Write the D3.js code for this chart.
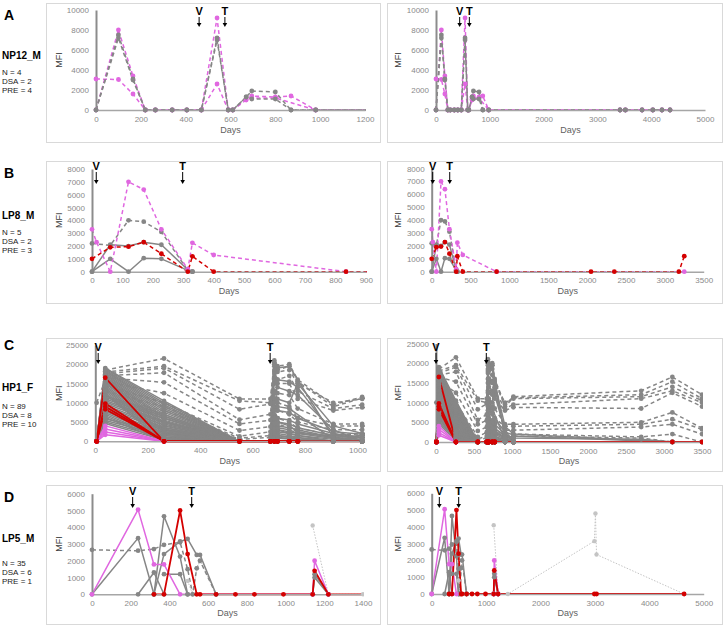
<!DOCTYPE html>
<html><head><meta charset="utf-8">
<script src="https://cdn.jsdelivr.net/npm/d3@7"></script>
<style>
body{margin:0;background:#fff}
svg{display:block}
text{font-family:"Liberation Sans",Arial,sans-serif}
</style></head>
<body><svg id="c" width="723" height="628"></svg>
<script>
// ---------------- DATA ----------------
// Panel A  (NP12_M)
const A_days = [0, 100, 165, 220, 265, 340, 405, 470, 540, 590, 610, 670, 695, 800, 870, 980, 3420, 3520, 3830, 4030, 4200, 4350];
const A_values = [
  [0, 8000, 3400, 0, 0, 0, 0, 0, 9200, 0, 0, 1000, 1400, 1300, 1400, 0, 0, 0, 0, 0, 0, 0],
  [3100, 3050, 1600, 0, 0, 0, 0, 0, 2600, 0, 0, 1100, 1200, 1200, null, 0, 0, 0, 0, 0, 0, 0],
  [0, 7500, 3100, 0, 0, 0, 0, 0, 7200, 0, 0, 1300, 1900, 1800, 0, 0, 0, 0, 0, 0, 0, 0],
  [0, 7200, 3000, 0, 0, 0, 0, 0, 7000, 0, 0, 1300, 1100, 1100, 0, 0, 0, 0, 0, 0, 0, 0]
];
const A_kinds = ["pinkDash", "pinkDash", "grayDash", "grayDash"];
const A_marks = {left: {V: 460, T: 575}, right: {V: 440, T: 620}};

// Panel B  (LP8_M)
const B_days = [0, 15, 60, 120, 170, 228, 315, 330, 400, 835, 2050, 2350, 3180, 3250];
const B_values = [
  [3300, 2300, 0, 7000, 6400, 3300, 200, 2250, 1300, 0, null, null, null, 0],
  [2200, null, 2050, 4000, 3900, 3100, 100, 0],
  [0, null, 2100, 2000, 2300, 2100, 150, 0],
  [0, null, 1000, 0, 1050, 1000, 100, 0],
  [1000, null, 1900, 1950, 2300, 1400, 0, 1200, 0, 0, 0, 0, 0, 1200]
];
const B_kinds = ["pinkDash", "grayDash", "graySolid", "graySolid", "redDash"];
const B_marks = {left: {V: 14, T: 298}, right: {V: 13, T: 232}};

// Panel C  (HP1_F)
const C_days = [5, 38, 262, 550, 668, 683, 695, 740, 772, 908, 1018, 2700, 3110, 3500];
const C_dashed = [
  [null, 18500, 21500, 11000, 11000, 21000, 19500, 20000, 16000, 9500, 11500, 13000, 16500, 12000],
  [null, 18000, 19500, 10500, 10000, 20000, 18500, 19500, 15500, 9000, 11200, 12000, 15300, 11000],
  [null, 17500, 19000, 8300, 9700, 19500, 18000, 18500, 15000, 10000, 11000, 11500, 14000, 10500],
  [null, 17000, 17800, 5600, 7000, 18500, 16000, 17000, 13000, 8500, 9500, 11000, 13000, 10000],
  [null, 16500, 15300, 4500, 5500, 17500, 15000, 15000, 11000, 8000, 8800, 8500, 12500, 9000],
  [null, 15500, 12500, 2800, 3800, 15000, 12500, 12000, 8500, 4500, 4500, 5000, 7500, 3500],
  [null, 14500, 10000, 1300, 2500, 12500, 10000, 9000, 6000, 4000, 4000, 4500, 5800, 3200],
  [null, 13000, 9000, 800, 1500, 10000, 8000, 7000, 5000, 3000, 3000, 3800, 4500, 2000],
  [null, 11000, 8000, 500, 1000, 8000, 6000, 5000, 3500, 1500, 2000, 1300, 2000, 0],
  [10000, 16000, 6000, 0, 0, 6000, 4500, 3500, 2500, 1000, 1500, 1000, 0, 0]
];
const C_solid = [
  [0, 19000, 10500, 0, 0, 4000, 3000, 2000, 1500, 500, 0],
  [0, 18800, 10000, 0, 0, 0, 0, 0, 0, 0, 0],
  [0, 18500, 9500, 0, 0, 6500, 5000, 4000, 2500, 1000, 1500, null, 0],
  [0, 18200, 9000, 0, 0, 0, 0, 0, 0, 0, 0],
  [0, 18000, 8500, 0, 0, 20500, 19000, 19500, null, 1000, 0],
  [0, 17700, 8000, 0, 0, 2000, 1500, 1000, 500, 0, 0],
  [0, 17400, 7500, 0, 0, 0, 0, 0, 0, 0, 0],
  [0, 17100, 7000, 0, 0, 3500, 3000, 2500, 2000, 1500, 1000, 700, 0],
  [0, 16800, 6500, 0, 0, 0, 0, 0, 0, 0, 0],
  [0, 16500, 6000, 0, 0, 13000, 11000, 10000, 15000, 4000, 2000, null, 0],
  [0, 16200, 5500, 0, 0, 0, 0, 0, 0, 0, 0],
  [0, 15900, 5000, 0, 0, 7000, 6000, 5500, 4500, 2000, 1000],
  [0, 15600, 4500, 0, 0, 0, 0, 0, 0, 0, 0],
  [0, 15300, 4000, 0, 0, 1500, 1000, 800, 500, 0, 0],
  [0, 15000, 3500, 0, 0, 0, 0, 0, 0, 0, 0],
  [0, 14600, 3000, 0, 0, 9000, 8000, 7500, 6000, 2500, 1800],
  [0, 14200, 2500, 0, 0, 0, 0, 0, 0, 0, 0],
  [0, 13800, 2000, 0, 0, 5000, 4000, 3500, 3000, 1000, 500],
  [0, 13400, 1500, 0, 0, 0, 0, 0, 0, 0, 0],
  [0, 13000, 1000, 0, 0, 11000, 9000, 8500, null, 500, 0],
  [0, 12600, 500, 0, 0, 0, 0, 0, 0, 0, 0],
  [0, 12200, 0, 0, 0, 3000, 2500, 2000, 1500, 0, 0],
  [0, 11800, 7000, 0, 0, 0, 0, 0, 0, 0, 0],
  [0, 11400, 6500, 0, 0, 16000, 14000, 13000, 12000, 3000, 0],
  [0, 11000, 6000, 0, 0, 0, 0, 0, 0, 0, 0],
  [0, 10600, 5200, 0, 0, 4500, 3500, 3000, 2000, 700, 0],
  [0, 10200, 4800, 0, 0, 0, 0, 0, 0, 0, 0],
  [0, 9800, 4200, 0, 0, 2500, 2000, 1500, 1000, 0, 0],
  [0, 9400, 3600, 0, 0, 0, 0, 0, 0, 0, 0],
  [0, 9000, 3200, 0, 0, 18000, 16000, 15500, 14000, 2000, 0],
  [0, 8600, 2800, 0, 0, 0, 0, 0, 0, 0, 0],
  [0, 8200, 2200, 0, 0, 1000, 800, 600, 400, 0, 0],
  [0, 7800, 1800, 0, 0, 0, 0, 0, 0, 0, 0],
  [0, 7400, 1200, 0, 0, 6000, 5000, 4500, 3500, 1500, 800],
  [0, 7000, 800, 0, 0, 0, 0, 0, 0, 0, 0],
  [0, 6600, 400, 0, 0, 0, 0, 0, 0, 0, 0],
  [0, 6200, 0, 0, 0, 2000, 1500, 1200, 900, 0, 0],
  [0, 5800, 2500, 0, 0, 0, 0, 0, 0, 0, 0],
  [0, 5400, 1500, 0, 0, 0, 0, 0, 0, 0, 0],
  [0, 5000, 800, 0, 0, 0, 0, 0, 0, 0, 0],
  [0, 4600, 300, 0, 0, 0, 0, 0, 0, 0, 0]
];
const C_pink = [
  [0, 4000, 0], [0, 3200, 0], [0, 2400, 0], [0, 1700, 0]
];
const C_red = [
  [0, 16500, 0, 0, 0, 0, 0, 0, 0, null, null, null, 0, 0],
  [0, 9800, 0, 0, 0, 0, 0, 0, 0],
  [0, 9000, 0, 0, 0, 0, 0, 0, 0],
  [0, 8300, 0, 0, 0, 0, 0, 0, 0]
];
const C_marks = {left: {V: 11, T: 667}, right: {V: 0, T: 662}};

// Panel D  (LP5_M)
const D_days = [0, 238, 320, 372, 455, 494, 520, 541, 558, 641, 741, 839, 989, 1140, 1150, 1221, 1400, 2990, 3010, 3030, 4640];
const D_values = [
  [null, null, null, null, null, null, null, null, null, null, null, null, null, 4100, null, 0, 0, 3150, 4800, 2350, 0],
  [null, null, null, null, null, 800, 0, 1550, 2000, 0],
  [0, 3350, 0],
  [null, 0, 1300, 0],
  [null, null, 0, 4650, 2250, 0],
  [null, null, null, 1200, 1200, 0],
  [null, null, 0, 2400, 3150, 3300, null, 2350, 2350, 0],
  [null, null, null, null, null, null, null, null, null, null, null, null, null, 0, 1200, 0],
  [null, null, null, null, null, null, null, null, null, null, null, null, null, 0, 1000, 0],
  [2650, 2600, 2700, 2950, 3100, 1500, 0, 1550, 2000, 0],
  [0, 5050, 1780, 1780, 0, null, null, null, null, null, null, null, null, 0, 2000, 0],
  [null, null, 0, 0, 5000, 2400, null, 0, 0, 0, 0, 0, 0, 0, 1400, 0, null, 0, null, 0, 0]
];
const D_kinds = ["lightDot", "lightDot", "graySolid", "graySolid", "graySolid", "graySolid", "graySolid", "graySolid", "graySolid", "grayDash", "pinkSolid", "redSolid"];
const D_marks = {left: {V: 210, T: 515}, right: {V: 140, T: 496}};

const panelLetters = ["A", "B", "C", "D"];
const patientIds = ["NP12_M", "LP8_M", "HP1_F", "LP5_M"];
const statLines = [
  ["N = 4", "DSA = 2", "PRE = 4"],
  ["N = 5", "DSA = 2", "PRE = 3"],
  ["N = 89", "DSA = 8", "PRE = 10"],
  ["N = 35", "DSA = 6", "PRE = 1"]
];

// ---------------- BUILD SERIES ----------------
function mk(days, vals, kind) {
  return {kind, pts: days.map((d, i) => ({d, v: vals[i]})).filter(p => p.v != null && p.v !== undefined)};
}
const A_series = A_values.map((v, i) => mk(A_days, v, A_kinds[i]));
const B_series = B_values.map((v, i) => mk(B_days, v, B_kinds[i]));
const C_series = [].concat(
  C_solid.map(v => mk(C_days, v, "graySolid")),
  C_dashed.map(v => mk(C_days, v, "grayDash")),
  C_pink.map(v => mk(C_days, v, "pinkSolid")),
  C_red.map(v => mk(C_days, v, "redSolid"))
);
const D_series = D_values.map((v, i) => mk(D_days, v, D_kinds[i]));

const STY = {
  lightDot:  {c: "#c4c4c4", w: 1,   dash: "1.5,1.5", r: 2.2, o: 0},
  graySolid: {c: "#868686", w: 1.5, dash: null,      r: 2.4, o: 1},
  grayDash:  {c: "#868686", w: 1.5, dash: "4,3",     r: 2.4, o: 2},
  pinkSolid: {c: "#e067e0", w: 1.5, dash: null,      r: 2.4, o: 3},
  pinkDash:  {c: "#e067e0", w: 1.5, dash: "4,3",     r: 2.4, o: 4},
  redSolid:  {c: "#d40000", w: 1.8, dash: null,      r: 2.4, o: 5},
  redDash:   {c: "#d40000", w: 1.5, dash: "4,3",     r: 2.4, o: 6}
};

// ---------------- LAYOUT ----------------
const PANELS = [
  {series: A_series, keepOrder: true, marks: A_marks, box: [3, 142], yMax: 10000, yStep: 2000, txt: [20, 59, 75], vtY: 14.5, arr: [17, 27],
   left:  {x: [96, 365], y: [110, 10], xMax: 1200, xStep: 200},
   right: {x: [436, 705], y: [110, 10], xMax: 5000, xStep: 1000}, daysY: 133},
  {series: B_series, marks: B_marks, box: [161, 303], yMax: 8000, yStep: 1000, txt: [178, 219, 235], vtY: 169.5, arr: [172, 184],
   left:  {x: [92, 365.8], y: [271.7, 169], xMax: 900, xStep: 100},
   right: {x: [431.7, 703.7], y: [271.7, 168.5], xMax: 3500, xStep: 500}, daysY: 294},
  {series: C_series, marks: C_marks, box: [338, 471], yMax: 25000, yStep: 5000, txt: [350, 391, 409], vtY: 350.5, arr: [353, 364],
   left:  {x: [95.3, 364], y: [441.3, 345], xMax: 1025, xStep: 200},
   right: {x: [436, 702], y: [442, 343.5], xMax: 3500, xStep: 500}, daysY: 464},
  {series: D_series, marks: D_marks, box: [485, 624], yMax: 6000, yStep: 1000, txt: [502, 542, 566], vtY: 494.5, arr: [497, 508],
   left:  {x: [92, 363], y: [594.3, 493.7], xMax: 1400, xStep: 200},
   right: {x: [431.7, 703.7], y: [594, 493.3], xMax: 5000, xStep: 1000}, daysY: 616}
];

const svg = d3.select("#c");
const defs = svg.append("defs");
let clipN = 0;

function drawSub(P, side) {
  const L = P[side];
  const bx = side === "left" ? [46, 380] : [387, 722];
  const x = d3.scaleLinear().domain([0, L.xMax]).range(L.x);
  const y = d3.scaleLinear().domain([0, P.yMax]).range(L.y);
  const g = svg.append("g");

  g.append("rect").attr("x", bx[0] + 0.5).attr("y", P.box[0] + 0.5)
    .attr("width", bx[1] - bx[0]).attr("height", P.box[1] - P.box[0])
    .attr("fill", "#fff").attr("stroke", "#d9d9d9").attr("stroke-width", 1);

  const cid = "clip" + (clipN++);
  defs.append("clipPath").attr("id", cid).append("rect")
    .attr("x", bx[0] + 1).attr("y", P.box[0] + 1).attr("width", L.x[1] + 1 - bx[0] - 1).attr("height", P.box[1] - P.box[0] - 2);

  const lineLayer = g.append("g").attr("clip-path", `url(#${cid})`);

  const ya = g.append("g").attr("transform", `translate(${L.x[0]},0)`)
    .call(d3.axisLeft(y).tickValues(d3.range(0, P.yMax + 1, P.yStep)).tickFormat(d3.format("d")).tickSize(0).tickPadding(7));
  ya.select(".domain").attr("stroke", "#8c8c8c").attr("stroke-width", 2);
  ya.selectAll("text").attr("fill", "#8a8a8a").attr("font-size", 8).attr("font-family", "Liberation Sans, Arial, sans-serif");

  const xa = g.append("g").attr("transform", `translate(0,${L.y[0]})`)
    .call(d3.axisBottom(x).tickValues(d3.range(0, L.xMax + 1, L.xStep)).tickFormat(d3.format("d")).tickSize(0).tickSizeOuter(0).tickPadding(6));
  xa.select(".domain").attr("stroke", "#a6a6a6").attr("stroke-width", 1.5);
  xa.selectAll("text").attr("fill", "#8a8a8a").attr("font-size", 8).attr("font-family", "Liberation Sans, Arial, sans-serif");

  const markLayer = g.append("g").attr("clip-path", `url(#${cid})`);

  const midY = (L.y[0] + L.y[1]) / 2;
  const mfiX = side === "left" ? 58.5 : 398;
  g.append("text").attr("transform", `translate(${mfiX},${midY}) rotate(-90)`)
    .attr("text-anchor", "middle").attr("dy", "0.35em").attr("font-size", 9).attr("fill", "#404040").text("MFI");
  g.append("text").attr("x", (L.x[0] + L.x[1]) / 2).attr("y", P.daysY).attr("text-anchor", "middle")
    .attr("font-size", 9).attr("fill", "#5f5f5f").text("Days");

  const line = d3.line().x(p => x(p.d)).y(p => y(p.v));
  const ordered = P.keepOrder ? P.series.slice() : P.series.slice().sort((a, b) => STY[a.kind].o - STY[b.kind].o);
  ordered.forEach(s => {
    const st = STY[s.kind];
    lineLayer.append("path").datum(s.pts).attr("d", line).attr("fill", "none")
      .attr("stroke", st.c).attr("stroke-width", st.w)
      .attr("stroke-dasharray", st.dash).attr("stroke-linejoin", "round");
  });
  ordered.forEach(s => {
    const st = STY[s.kind];
    markLayer.selectAll(null).data(s.pts).join("circle")
      .attr("cx", p => x(p.d)).attr("cy", p => y(p.v)).attr("r", st.r).attr("fill", st.c);
  });

  const mks = P.marks[side];
  Object.entries(mks).forEach(([lab, d]) => {
    const xx = x(d);
    g.append("text").attr("x", xx).attr("y", P.vtY).attr("text-anchor", "middle")
      .attr("font-size", 11).attr("font-weight", "bold").attr("fill", "#000").text(lab);
    g.append("line").attr("x1", xx).attr("x2", xx).attr("y1", P.arr[0]).attr("y2", P.arr[1] - 3)
      .attr("stroke", "#000").attr("stroke-width", 1);
    g.append("path").attr("d", `M${xx - 2.3},${P.arr[1] - 4}L${xx + 2.3},${P.arr[1] - 4}L${xx},${P.arr[1]}Z`).attr("fill", "#000");
  });
}

PANELS.forEach((P, i) => {
  drawSub(P, "left");
  drawSub(P, "right");
  const t = svg.append("g");
  t.append("text").attr("x", 4).attr("y", P.txt[0]).attr("font-size", 14).attr("font-weight", "bold").attr("fill", "#000").text(panelLetters[i]);
  t.append("text").attr("x", 2).attr("y", P.txt[1]).attr("font-size", 10).attr("font-weight", "bold").attr("fill", "#000").text(patientIds[i]);
  statLines[i].forEach((s, k) => {
    t.append("text").attr("x", 2).attr("y", P.txt[2] + k * 9).attr("font-size", 8).attr("fill", "#222").text(s);
  });
});
</script>
</body></html>
